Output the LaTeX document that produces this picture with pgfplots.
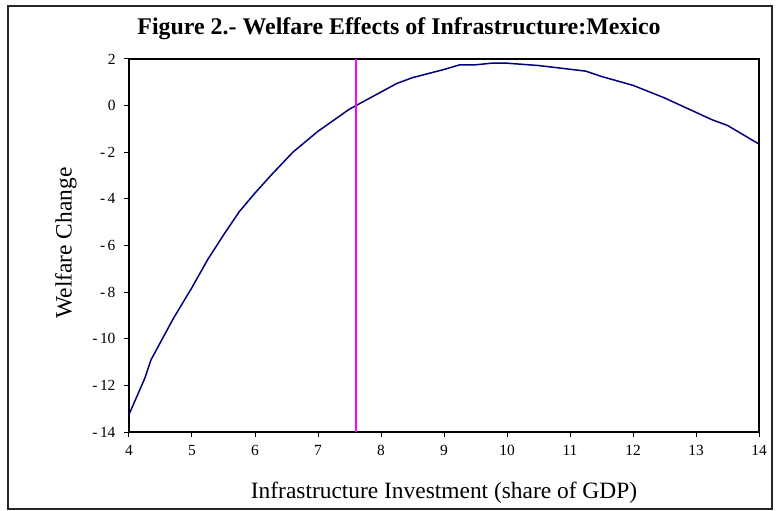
\documentclass[border=0pt]{standalone}
\usepackage{fontspec}
\setmainfont{Liberation Serif}
\usepackage{pgfplots}
\pgfplotsset{compat=1.18}
\definecolor{navyc}{HTML}{000080}
\definecolor{magc}{HTML}{FF00FF}
\begin{document}
\begin{tikzpicture}
\path[use as bounding box] (-129bp,-79bp) rectangle (650bp,432bp);
\draw[line width=1.8bp, black!85] (-121bp,-77bp) rectangle (643bp,426bp);
\begin{axis}[
  at={(0,0)}, anchor=south west,
  scale only axis, width=630bp, height=373bp,
  xmin=4, xmax=14, ymin=-14, ymax=2,
  xtick={4,5,...,14}, ytick={-14,-12,...,2},
  yticklabels={-\,14,-\,12,-\,10,-\,8,-\,6,-\,4,-\,2,0,2},
  axis line style={line width=1.2bp},
  tick style={black, line width=1bp},
  tick align=outside, major tick length=5bp,
  xtick pos=bottom, ytick pos=left,
  ticklabel style={font=\fontsize{15.5}{18}\selectfont},
  /pgf/number format/assume math mode=true,
  yticklabel style={xshift=-5bp},
  xticklabel style={yshift=-5bp},
  clip=false,
]
\addplot[navyc, line width=1.5bp] coordinates {
(4,-13.25) (4.25,-11.7) (4.35,-10.9) (4.7,-9.15) (5.0,-7.8) (5.25,-6.6)
(5.5,-5.55) (5.75,-4.55) (6.0,-3.75) (6.25,-3.0) (6.6,-2.0) (7.0,-1.1)
(7.5,-0.15) (8.25,0.95) (8.5,1.2) (9.0,1.55) (9.25,1.75) (9.5,1.75)
(9.75,1.82) (10.0,1.82) (10.5,1.72) (11.25,1.48) (11.5,1.25) (12.0,0.87)
(12.5,0.33) (13.25,-0.6) (13.5,-0.85) (14,-1.65)
};
\addplot[magc, line width=2.5bp] coordinates {(7.6,-14) (7.6,2)};
\end{axis}
\node[font=\bfseries\fontsize{24}{28}\selectfont, anchor=base] at (270bp,397.5bp) {Figure 2.- Welfare Effects of Infrastructure:Mexico};
\node[font=\fontsize{23.5}{27}\selectfont, rotate=90] at (-63bp,189bp) {Welfare Change};
\node[font=\fontsize{23.5}{27}\selectfont, anchor=base] at (315bp,-66bp) {Infrastructure Investment (share of GDP)};
\end{tikzpicture}
\end{document}
